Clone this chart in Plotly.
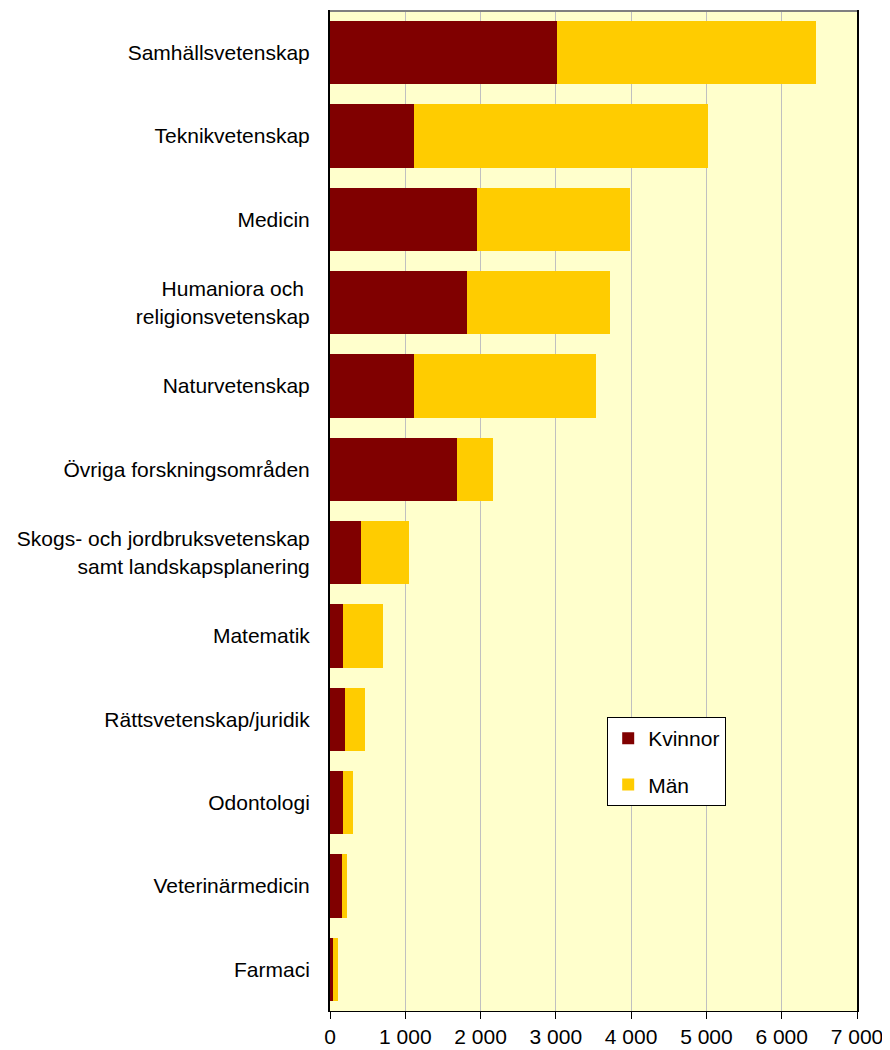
import plotly.graph_objects as go

categories = [
    "Samhällsvetenskap",
    "Teknikvetenskap",
    "Medicin",
    "Humaniora och <br>religionsvetenskap",
    "Naturvetenskap",
    "Övriga forskningsområden",
    "Skogs- och jordbruksvetenskap<br>samt landskapsplanering",
    "Matematik",
    "Rättsvetenskap/juridik",
    "Odontologi",
    "Veterinärmedicin",
    "Farmaci",
]
kvinnor = [3010, 1110, 1950, 1825, 1115, 1690, 415, 178, 204, 173, 155, 44]
man = [3440, 3905, 2030, 1890, 2420, 475, 640, 530, 265, 132, 75, 58]
x_ticks = [0, 1000, 2000, 3000, 4000, 5000, 6000, 7000]

fig = go.Figure()
fig.add_trace(go.Bar(y=categories, x=kvinnor, name="Kvinnor", orientation="h",
                     marker=dict(color="#800000", line=dict(width=0)),
                     legendgroup="k"))
fig.add_trace(go.Bar(y=categories, x=man, name="Män", orientation="h",
                     marker=dict(color="#FFCC00", line=dict(width=0)),
                     legendgroup="m"))

fig.update_layout(
    width=882, height=1042,
    margin=dict(l=322, r=33, t=2, b=35),
    barmode="stack", bargap=0.24,
    plot_bgcolor="#FFFFCC", paper_bgcolor="white",
    font=dict(family="Liberation Sans, Arial, sans-serif", size=21, color="black"),
    separators=", ",
    legend=dict(x=0.526, y=0.294, xanchor="left", yanchor="top",
                bgcolor="white", bordercolor="black", borderwidth=1,
                font=dict(size=21), traceorder="grouped", tracegroupgap=16,
                itemwidth=30),
    xaxis=dict(range=[0, 7000], tickvals=x_ticks, tickformat=",d",
               showgrid=True, gridcolor="#C0C0C0", gridwidth=1,
               ticks="outside", ticklen=7, tickcolor="black",
               showline=True, linecolor="black", linewidth=1, mirror=True,
               zeroline=False, fixedrange=True),
    yaxis=dict(autorange="reversed", showgrid=False, ticks="",
               ticklabelstandoff=14, showline=True, linecolor="black",
               linewidth=2, mirror=True, fixedrange=True),
)
fig.add_shape(type="line", xref="paper", yref="paper", x0=0, x1=1, y0=1, y1=1,
              line=dict(color="#808080", width=2))

fig.write_html("out.html")
